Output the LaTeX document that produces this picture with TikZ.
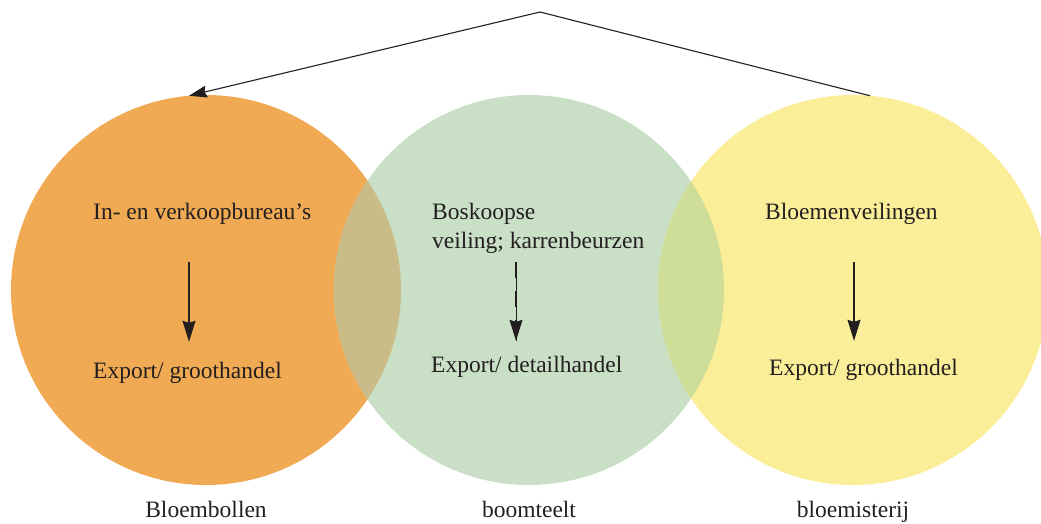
\documentclass[tikz,border=0pt]{standalone}
\usepackage{fontspec}
\setmainfont{Liberation Serif}
\usetikzlibrary{arrows.meta}
\definecolor{bolkleur}{RGB}{240,170,83}
\definecolor{boomkleur}{RGB}{201,224,198}
\definecolor{bloemkleur}{RGB}{251,238,153}
\definecolor{mengA}{RGB}{201,188,136}
\definecolor{mengB}{RGB}{206,221,152}
\definecolor{inkt}{RGB}{35,31,32}

\begin{document}
\begin{tikzpicture}[x=1pt,y=-1pt,
  font=\fontsize{23.5}{28}\selectfont,
  rnd/.style={circle,inner sep=0pt,outer sep=0pt,minimum size=390pt},
  tekst/.style={inner sep=0pt,text height=17pt,text depth=5pt,text=inkt},
  pijl/.style={-{Stealth[length=21pt,width=13pt,inset=2pt]},line width=1.1pt,inkt}]
  \clip (0,0) rectangle (1041,523);
  \node[rnd,fill=bolkleur] (bol) at (206,290) {};
  \node[rnd,fill=boomkleur] (boom) at (529,290) {};
  \node[rnd,fill=bloemkleur] (bloem) at (853,290) {};
  \begin{scope}
    \clip (bol.center) circle (195pt);
    \fill[mengA] (boom.center) circle (195pt);
  \end{scope}
  \begin{scope}
    \clip (boom.center) circle (195pt);
    \fill[mengB] (bloem.center) circle (195pt);
  \end{scope}
  % teksten in de cirkels
  \node[tekst,anchor=base west] (inbol) at (93,219) {In- en verkoopbureau’s};
  \node[tekst,anchor=base west] (uitbol) at (93,378) {Export/ groothandel};
  \node[tekst,anchor=base west] (inboom1) at (432,219) {Boskoopse};
  \node[tekst,anchor=base west] (inboom) at (432,248) {veiling; karrenbeurzen};
  \node[tekst,anchor=base west] (uitboom) at (431,372) {Export/ detailhandel};
  \node[tekst,anchor=base west] (inbloem) at (765,219) {Bloemenveilingen};
  \node[tekst,anchor=base west] (uitbloem) at (769,375) {Export/ groothandel};
  % namen onder de cirkels
  \node[tekst,anchor=base] (nbol) at (bol.center |- 0,517) {Bloembollen};
  \node[tekst,anchor=base] (nboom) at (boom.center |- 0,517) {boomteelt};
  \node[tekst,anchor=base] (nbloem) at (bloem.center |- 0,517) {bloemisterij};
  % pijlen
  \coordinate (xbol) at (189,0);
  \coordinate (xboom) at (516,0);
  \coordinate (xbloem) at (854,0);
  \draw[pijl,shorten <=38pt,shorten >=19pt] (inbol.south -| xbol) -- (uitbol.north -| xbol);
  \draw[pijl,shorten <=9pt,shorten >=14pt,dash pattern=on 16pt off 13pt,
    postaction={draw,solid,line width=0.3pt,-}] (inboom.south -| xboom) -- (uitboom.north -| xboom);
  \draw[pijl,shorten <=38pt,shorten >=17pt] (inbloem.south -| xbloem) -- (uitbloem.north -| xbloem);
  \coordinate (top) at (540,12);
  \draw[pijl,-{Stealth[length=18pt,width=12pt,inset=2pt]}] (top) -- (bol.95);
  \draw[pijl,-] (top) -- (bloem.85);
\end{tikzpicture}
\end{document}
